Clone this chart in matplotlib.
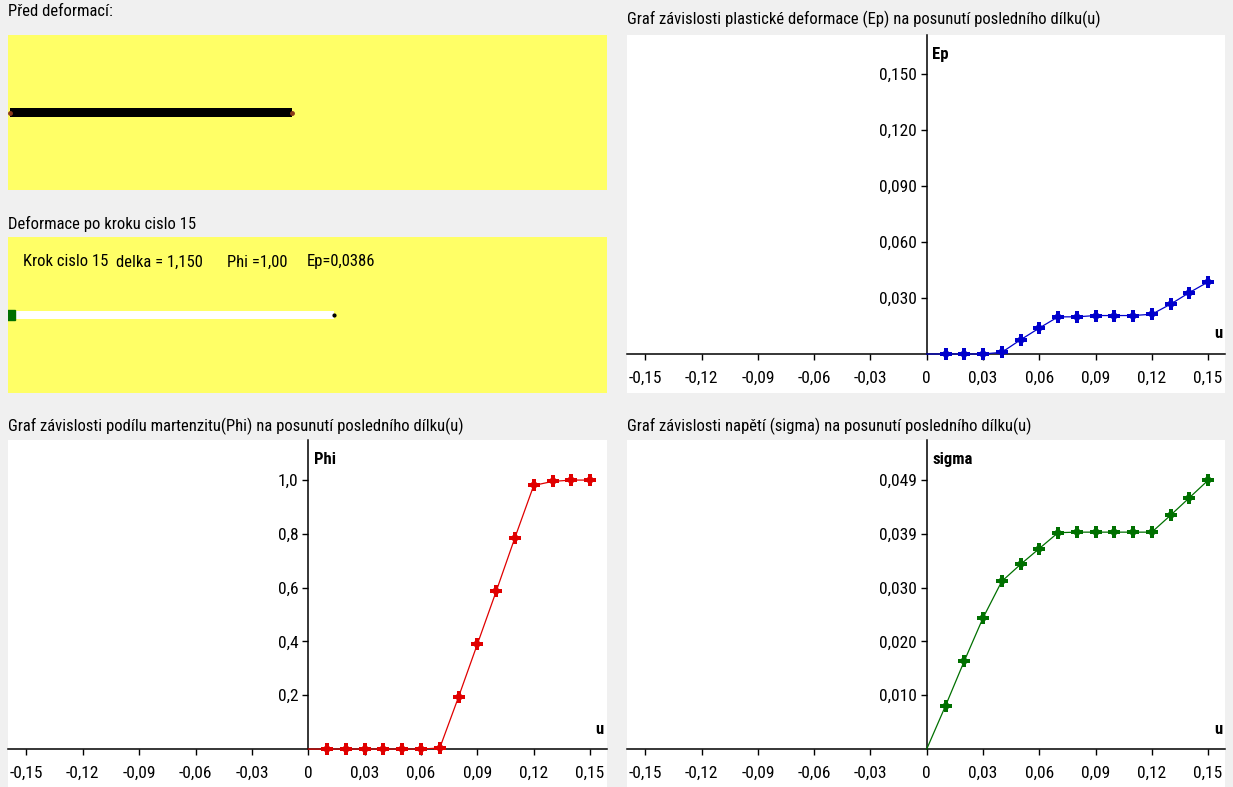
import matplotlib
matplotlib.use("Agg")
import matplotlib.pyplot as plt
import matplotlib.transforms as mtransforms
from matplotlib import font_manager as fm

# data
u = [0.00, 0.01, 0.02, 0.03, 0.04, 0.05, 0.06, 0.07, 0.08, 0.09, 0.10, 0.11, 0.12, 0.13, 0.14, 0.15]
ep = [0.0, 0.0, 0.0, 0.0, 0.0009, 0.0076, 0.0139, 0.0199, 0.0199, 0.0206, 0.0206, 0.0206, 0.0213, 0.0267, 0.0329, 0.0386]
phi = [0.0, 0.0, 0.0, 0.0, 0.0, 0.0, 0.0, 0.004, 0.194, 0.39, 0.586, 0.786, 0.98, 0.995, 1.0, 1.0]
sigma = [0.0, 0.0079, 0.0161, 0.0240, 0.0307, 0.0338, 0.0367, 0.0396, 0.0397, 0.0397, 0.0397, 0.0397, 0.0397, 0.0428, 0.0460, 0.0492]

x_ticks = [-0.15, -0.12, -0.09, -0.06, -0.03, 0.0, 0.03, 0.06, 0.09, 0.12, 0.15]
x_labels = ["-0,15", "-0,12", "-0,09", "-0,06", "-0,03", "0", "0,03", "0,06", "0,09", "0,12", "0,15"]
ep_ticks = [0.03, 0.06, 0.09, 0.12, 0.15]
ep_labels = ["0,030", "0,060", "0,090", "0,120", "0,150"]
phi_ticks = [0.2, 0.4, 0.6, 0.8, 1.0]
phi_labels = ["0,2", "0,4", "0,6", "0,8", "1,0"]
sigma_ticks = [0.00985, 0.0197, 0.02955, 0.0394, 0.04925]
sigma_labels = ["0,010", "0,020", "0,030", "0,039", "0,049"]

bar_lengths = [1.0, 1.150]
step = 15
delka = 1.150
phi_now = 1.00
ep_now = 0.0386

BG = "#f0f0f0"
YELLOW = "#ffff66"

# pick a narrow sans if one is installed
installed = {f.name for f in fm.fontManager.ttflist}
preferred = ["Liberation Sans Narrow", "Arial Narrow", "Roboto Condensed", "PT Sans Narrow",
             "Archivo Narrow", "Fira Sans Condensed", "IBM Plex Sans Condensed",
             "Open Sans Condensed", "Pragati Narrow", "Liberation Sans"]
narrow = next((n for n in preferred if n in installed), "DejaVu Sans")
plt.rcParams["font.family"] = [narrow, "DejaVu Sans"]
is_narrow = narrow != "Liberation Sans"
TXT = 12 if is_narrow else 10.5
TICK = 12.5 if is_narrow else 10.5

W, H = 1233, 787
fig = plt.figure(figsize=(W / 100, H / 100), dpi=100, facecolor=BG)


def px_axes(x0, y0, x1, y1):
    return fig.add_axes([x0 / W, 1 - y1 / H, (x1 - x0) / W, (y1 - y0) / H])


def title(x, y, text):
    fig.text(x / W, 1 - y / H, text, fontsize=TXT, va="center", ha="left", color="#000000")


def chart(box, ylim, yvals, yticks, ylabels, color, ylabel):
    ax = px_axes(*box)
    ax.set_facecolor("white")
    ax.set_xlim(-0.1598, 0.1590)
    ax.set_ylim(*ylim)
    for side in ("top", "right"):
        ax.spines[side].set_visible(False)
    ax.spines["left"].set_position(("data", 0))
    ax.spines["left"].set_bounds(0, ylim[1])
    ax.spines["bottom"].set_position(("data", 0))
    ax.spines["left"].set_linewidth(1.1)
    ax.spines["bottom"].set_linewidth(1.1)
    ax.set_xticks(x_ticks)
    ax.set_xticklabels(x_labels)
    ax.set_yticks(yticks)
    ax.set_yticklabels(ylabels)
    ax.tick_params(axis="x", length=4, width=1, pad=8, labelsize=TICK)
    ax.tick_params(axis="y", length=4, width=1, pad=3, labelsize=TICK)
    ax.plot(u, yvals, color=color, lw=0.9, zorder=3, clip_on=False)
    ax.plot(u[1:], yvals[1:], ls="none", marker="P", markersize=8.5, markeredgewidth=0,
            color=color, zorder=4, clip_on=False)
    ax.plot(u[1:], yvals[1:], ls="none", marker="D", markersize=5, markeredgewidth=0,
            color=color, zorder=4, clip_on=False)
    trans = mtransforms.blended_transform_factory(ax.transData, ax.transAxes)
    ax.text(0.003, 0.945, ylabel, transform=trans, fontsize=TXT, fontweight="bold",
            ha="left", va="center")
    ax.text(0.988, 0.165, "u", transform=ax.transAxes, fontsize=TXT, fontweight="bold",
            ha="center", va="center")
    return ax


# top-left: before deformation
title(8, 12, "Před deformací:")
ax0 = px_axes(8, 35, 607, 190)
ax0.set_xlim(-0.007, 2.117)
ax0.set_ylim(0, 1)
ax0.axis("off")
ax0.add_patch(plt.Rectangle((0, 0), 1, 1, transform=ax0.transAxes, color=YELLOW, zorder=0))
ax0.barh(0.5, bar_lengths[0], height=0.06, left=0, color="black", zorder=2)
ax0.plot([0, bar_lengths[0]], [0.5, 0.5], ls="none", marker="o", markersize=2.5, color="#8b3a1a", zorder=3)

# second panel: after step
title(8, 224, f"Deformace po kroku cislo {step}")
ax1 = px_axes(8, 237, 607, 393)
ax1.set_xlim(-0.007, 2.117)
ax1.set_ylim(0, 1)
ax1.axis("off")
ax1.add_patch(plt.Rectangle((0, 0), 1, 1, transform=ax1.transAxes, color=YELLOW, zorder=0))
ax1.barh(0.5, bar_lengths[1], height=0.045, left=0, color="white", zorder=2)
ax1.plot([0.0], [0.5], ls="none", marker="s", markersize=6.5, color="#007000", zorder=3)
ax1.plot([bar_lengths[1]], [0.5], ls="none", marker="o", markersize=2, color="black", zorder=3)
info_parts = [f"Krok cislo {step}", f"delka = {delka:.3f}", f"Phi ={phi_now:.2f}", f"Ep={ep_now:.4f}"]
info_x = [23, 116, 227, 307]
for x, part in zip(info_x, info_parts):
    ax1.text((x - 8) / 599, 0.84, part.replace(".", ","), transform=ax1.transAxes,
             fontsize=TXT, ha="left", va="center")

# charts
title(627, 19, "Graf závislosti plastické deformace (Ep) na posunutí posledního dílku(u)")
chart((627, 35, 1225, 393), (-0.0209, 0.1709), ep, ep_ticks, ep_labels, "#0000cc", "Ep")

title(8, 426, "Graf závislosti podílu martenzitu(Phi) na posunutí posledního dílku(u)")
chart((8, 440, 607, 787), (-0.141, 1.149), phi, phi_ticks, phi_labels, "#e00000", "Phi")

title(627, 426, "Graf závislosti napětí (sigma) na posunutí posledního dílku(u)")
chart((627, 440, 1225, 787), (-0.00696, 0.05657), sigma, sigma_ticks, sigma_labels, "#007000", "sigma")

fig.savefig("out.png", dpi=100, facecolor=BG)
